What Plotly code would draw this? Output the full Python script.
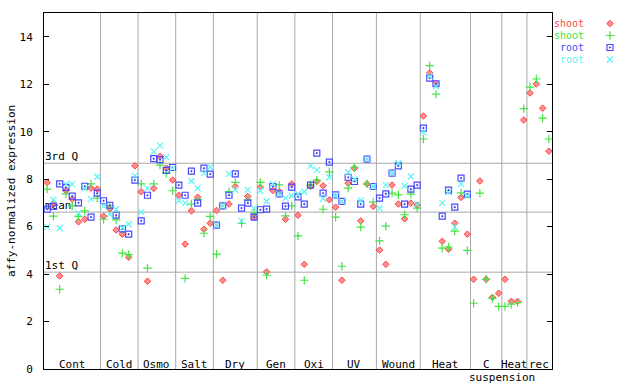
import plotly.graph_objects as go

# ---------------- data ----------------
groups = ["Cont", "Cold", "Osmo", "Salt", "Dry", "Gen", "Oxi", "UV", "Wound", "Heat", "C", "Heat", "rec"]
group_sizes = [9, 6, 6, 6, 7, 6, 6, 7, 7, 8, 5, 4, 4]
sub_label = "suspension"
sub_label_group = 10

q_labels = ["3rd Q", "mean", "1st Q"]
q_values = [8.67, 6.61, 4.08]

series_names = ["shoot", "shoot", "root", "root"]

shoot_rep1 = [7.86, 6.99, 3.92, 7.52, 7.16, 6.20, 6.31, 7.62, 7.58,
              6.44, 6.75, 5.86, 5.68, 4.71, 8.56,
              7.47, 3.70, 7.61, 8.96, 8.46, 7.96,
              7.32, 5.26, 6.66, 7.24, 5.89, 6.14,
              6.68, 3.74, 6.95, 7.69, None, 7.27, 6.40,
              7.66, 4.09, 7.52, 7.48, 6.31, 7.80,
              6.48, 4.41, 7.70, 7.90, 7.72, 7.13,
              6.82, 3.74, 7.83, 8.46, 6.24, 7.80, 6.85,
              5.01, 4.41, 7.75, 6.95, 6.33, 6.99, 6.90,
              10.66, 12.47, 12.02, 5.38, 5.05, 6.14, 7.23, 5.68,
              3.78, 7.92, 3.78, 3.02, 3.19,
              3.78, 2.85, 2.85, 10.49,
              11.63, 12.01, 10.99, 9.18]

shoot_rep2 = [7.58, 6.44, 3.36, 7.38, 6.87, 6.43, 6.66, 7.80, 7.20,
              6.31, 6.87, 6.28, 4.88, 4.82, None,
              7.80, 4.25, 7.80, 8.59, 8.25, 7.51,
              None, 3.82, 6.95, 7.15, 5.72, 6.43,
              4.84, None, 7.47, 7.86, 6.14, 7.13, 6.57,
              7.86, 3.95, None, 7.76, 6.45, 6.87,
              5.61, 3.74, 7.75, 7.96, 6.73, 8.31,
              6.40, 4.33, 7.62, 8.50, 5.98, 7.80, 7.03,
              5.40, 6.02, 7.41, 7.34, 6.50, 7.37, 6.78,
              9.69, 12.78, 11.58, 5.09, 5.14, 5.81, 7.42, 5.00,
              2.77, 7.41, 3.78, 2.98, 2.64,
              2.64, 2.73, 2.80, 10.97,
              11.88, 12.22, 10.57, 9.69]

root_rep1 = [6.73, 6.85, 7.80, 7.65, 7.28, 7.00, 7.70, 6.40, 7.41,
             7.09, 6.90, 6.48, 5.90, 5.68, 7.96,
             6.24, 7.32, 8.86, 8.82, 8.37, 8.49,
             7.75, 7.32, 8.34, 6.99, 8.46, 8.21,
             6.06, 6.87, 7.32, 8.22, 6.78, 6.99, 6.40,
             6.71, 6.74, 7.69, 7.38, 6.86, 7.66,
             7.25, 6.95, 7.75, 9.10, 7.41, 8.72,
             7.34, 7.06, 8.08, 7.90, 6.95, 8.84, 7.69,
             7.20, 7.38, 8.25, 8.56, 6.95, 7.58, 7.75,
             10.15, 12.26, 12.02, 6.44, 7.54, 6.82, 8.04, 7.37,
             None, None, None, None, None,
             None, None, None, None,
             None, None, None, None]

root_rep2 = [5.99, 7.13, 5.93, 7.79, 7.79, 6.57, 7.62, 7.16, 8.10,
             6.86, 6.52, 6.73, 5.95, 6.10, 8.14,
             6.61, 7.61, 9.17, 9.41, 8.93, 8.45,
             7.10, 6.99, 7.92, 7.61, 8.25, 8.51,
             6.06, 6.87, 8.22, 7.55, 6.24, 7.55, 6.78,
             7.51, 7.07, 7.80, 7.38, 7.20, 7.30,
             7.38, 7.47, 8.56, 8.38, 7.18, 8.08,
             7.30, 7.06, 8.29, 8.00, 7.10, 8.84, 7.69,
             6.78, 7.75, 8.25, 8.67, 7.72, 8.11, 6.95,
             9.97, 12.33, 11.91, 6.99, 7.45, 5.99, 7.79, 7.30,
             None, None, None, None, None,
             None, None, None, None,
             None, None, None, None]

y_ticks = [0, 2, 4, 6, 8, 10, 12, 14]
y_title = "affy-normalized expression"

# ---------------- styles ----------------
FONT = "DejaVu Sans Mono"
colors = ["#ff4848", "#44e444", "#4848ff", "#5cf4f4"]
markers = [
    dict(symbol="diamond", size=5, color="#ff9090", line=dict(color="#ff4040", width=1)),
    dict(symbol="cross-thin-open", size=6, color="#44e444", line=dict(color="#44e444", width=1.2)),
    dict(symbol="square-open-dot", size=6, color="#4848ff", line=dict(color="#4848ff", width=1.2)),
    dict(symbol="x-thin-open", size=6, color="#5cf4f4", line=dict(color="#5cf4f4", width=1.2)),
]

n = sum(group_sizes)
xs = [i + 0.5 for i in range(n)]

L, R_PX, T, B = 44, 552, 13, 369
W, H = 640, 384
paper_w = W - L
x_dom_end = (R_PX - L) / paper_w

fig = go.Figure()

# quartile labels drawn first so that the points sit on top of them
fig.add_trace(go.Scatter(x=[0.15] * len(q_labels), y=q_values, mode="text", text=q_labels,
                         textposition="top right", showlegend=False, hoverinfo="skip",
                         cliponaxis=False,
                         textfont=dict(family=FONT, size=11, color="black")))

all_series = [shoot_rep1, shoot_rep2, root_rep1, root_rep2]
for vals, m in zip(all_series, markers):
    fig.add_trace(go.Scatter(x=xs, y=vals, mode="markers", marker=m,
                             showlegend=False, hoverinfo="skip", cliponaxis=False))

# legend keys on an auxiliary axis
rows = list(range(len(series_names)))
for r, m in zip(rows, markers):
    fig.add_trace(go.Scatter(x=[0.5], y=[r], mode="markers", marker=m,
                             xaxis="x2", yaxis="y2", showlegend=False, hoverinfo="skip"))

shapes = []
annotations = []
# group separators + labels
bounds = [0]
for s in group_sizes:
    bounds.append(bounds[-1] + s)
for b in bounds[1:-1]:
    shapes.append(dict(type="line", xref="x", yref="y domain", x0=b, x1=b, y0=0, y1=1,
                       line=dict(color="#a8a8a8", width=1), layer="below"))
for gi, (g, a, b) in enumerate(zip(groups, bounds[:-1], bounds[1:])):
    annotations.append(dict(text=g, x=(a + b) / 2, xref="x", y=(B - 364) / (B - T), yref="paper",
                            showarrow=False, xanchor="center", yanchor="middle",
                            font=dict(family=FONT, size=11, color="black")))
annotations.append(dict(text=sub_label, x=bounds[sub_label_group + 1], xref="x",
                        y=(B - 377) / (B - T), yref="paper", showarrow=False,
                        xanchor="center", yanchor="middle",
                        font=dict(family=FONT, size=11, color="black")))

# quartile lines
for v in q_values:
    shapes.append(dict(type="line", xref="x domain", yref="y", x0=0, x1=1, y0=v, y1=v,
                       line=dict(color="#a8a8a8", width=1), layer="below"))

# legend texts
for r, name, c in zip(rows, series_names, colors):
    annotations.append(dict(text=name, x=(586 - L) / paper_w, xref="paper", y=r, yref="y2",
                            showarrow=False, xanchor="right", yanchor="middle",
                            font=dict(family=FONT, size=10, color=c)))

# y title
annotations.append(dict(text=y_title, x=(11 - L) / paper_w, xref="paper", y=0.5, yref="paper",
                        textangle=-90, showarrow=False, xanchor="center", yanchor="middle",
                        font=dict(family=FONT, size=11, color="black")))

fig.update_layout(
    width=W, height=H,
    margin=dict(l=L, r=0, t=T, b=H - B, pad=0),
    paper_bgcolor="white", plot_bgcolor="white",
    showlegend=False,
    xaxis=dict(domain=[0, x_dom_end], range=[0, n], showticklabels=False, ticks="",
               showgrid=False, zeroline=False, showline=True, linecolor="black",
               linewidth=1, mirror=True, fixedrange=True),
    yaxis=dict(range=[0, 15], tickvals=y_ticks, ticks="inside", ticklen=5, tickcolor="black",
               showgrid=False, zeroline=False, showline=True, linecolor="black", linewidth=1,
               mirror="allticks", ticklabelstandoff=8,
               tickfont=dict(family=FONT, size=11, color="black")),
    xaxis2=dict(domain=[(600 - L) / paper_w, (620 - L) / paper_w], range=[0, 1], visible=False,
                anchor="y2"),
    yaxis2=dict(domain=[(B - 65.5) / (B - T), (B - 17.5) / (B - T)], range=[3.5, -0.5],
                visible=False, anchor="x2"),
    shapes=shapes,
    annotations=annotations,
    font=dict(family=FONT, size=11, color="black"),
)

fig.write_html("out.html", config={"displayModeBar": False, "staticPlot": True},
               post_script="document.body.style.margin='0px';")
